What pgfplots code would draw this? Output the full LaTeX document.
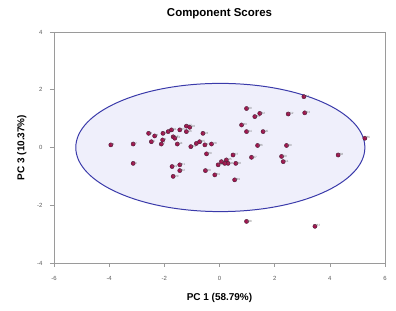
\documentclass[border=0pt]{standalone}
\usepackage{fontspec}
\setmainfont{Liberation Sans}
\setsansfont{Liberation Sans}
\usepackage{pgfplots}
\usepackage{pgfplotstable}
\pgfplotsset{compat=1.18}
\definecolor{ptfill}{HTML}{A3144E}
\definecolor{ptdraw}{HTML}{4A2038}
\definecolor{ellfill}{HTML}{EFEFFB}
\definecolor{elldraw}{HTML}{3A3AAA}
\definecolor{axgray}{HTML}{9A9A9A}
\pgfplotstableread{
x y lab
-3.94 0.09 L1
-3.13 0.12 L2
-3.13 -0.55 L3
-2.57 0.49 L4
-2.47 0.20 L5
-2.35 0.40 L6
-2.11 0.12 L7
-2.05 0.49 L8
-2.06 0.26 L9
-1.86 0.55 L10
-1.74 0.61 L11
-1.68 0.37 L12
-1.62 0.32 L13
-1.53 0.12 L14
-1.44 0.61 L15
-1.20 0.55 L16
-1.20 0.74 L17
-1.08 0.70 L18
-1.72 -0.66 L19
-1.68 -1.00 L20
-1.44 -0.60 L21
-1.44 -0.80 L22
-1.04 0.03 L23
-0.84 0.14 L24
-0.72 0.20 L25
-0.60 0.49 L26
-0.53 0.09 L27
-0.29 0.12 L28
-0.47 -0.22 L29
-0.51 -0.80 L30
-0.17 -0.95 L31
-0.05 -0.60 L32
0.07 -0.49 L33
0.19 -0.55 L34
0.25 -0.43 L35
0.31 -0.55 L36
0.49 -0.26 L37
0.59 -0.55 L38
0.55 -1.12 L39
0.98 1.35 L40
1.28 1.07 L41
1.46 1.18 L42
0.80 0.78 L43
0.98 0.55 L44
1.58 0.55 L45
1.38 0.07 L46
1.16 -0.34 L47
0.98 -2.56 L48
2.43 0.07 L49
2.25 -0.31 L50
2.31 -0.49 L51
2.49 1.16 L52
3.09 1.20 L53
3.06 1.76 L54
5.27 0.32 L55
4.30 -0.26 L56
3.46 -2.73 L57
}\scores
\begin{document}
\begin{tikzpicture}
\begin{axis}[
  name=ax,
  scale only axis,
  width=331bp, height=231bp,
  xmin=-6, xmax=6, ymin=-4, ymax=4,
  xtick={-6,-4,...,6}, ytick={-4,-2,...,4},
  axis line style={axgray, line width=0.5pt},
  tick style={axgray, line width=0.5pt},
  tick align=outside,
  major tick length=4bp,
  xtick pos=bottom, ytick pos=left,
  ticklabel style={font=\fontsize{6}{7}\selectfont, text=black!65},
  xticklabel style={yshift=-6bp},
  yticklabel style={xshift=-4bp},
  /pgf/number format/assume math mode=true,
  every axis title shift=0pt,
  title={\textbf{Component Scores}},
  title style={font=\fontsize{11.5}{13}\selectfont, at={(axis description cs:0.5,1.078)}, anchor=center},
  xlabel={\textbf{PC 1 (58.79\%)}},
  ylabel={\textbf{PC 3 (10.37\%)}},
  label style={font=\fontsize{10}{11}\selectfont},
  xlabel style={at={(axis description cs:0.5,-0.152)}, anchor=center},
  ylabel style={at={(axis description cs:-0.097,0.5)}, anchor=center},
  clip=false,
]
\draw[fill=ellfill, draw=elldraw, line width=1pt] (axis cs:0.03,0) ellipse [x radius=5.24, y radius=2.22];
\addplot[only marks, mark=*, mark size=2.1bp,
  mark options={fill=ptfill, draw=ptdraw, line width=0.4pt},
  nodes near coords, point meta=explicit symbolic,
  every node near coord/.style={font=\fontsize{3}{3.5}\selectfont, text=black!55, anchor=south west, inner sep=0.6bp, xshift=-0.5bp, yshift=-1.5bp}]
  table[x=x, y=y, meta=lab] {\scores};
\end{axis}
\pgfresetboundingbox
\path ([shift={(-54bp,-48bp)}]ax.south west) rectangle ([shift={(11bp,32bp)}]ax.north east);
\end{tikzpicture}
\end{document}
